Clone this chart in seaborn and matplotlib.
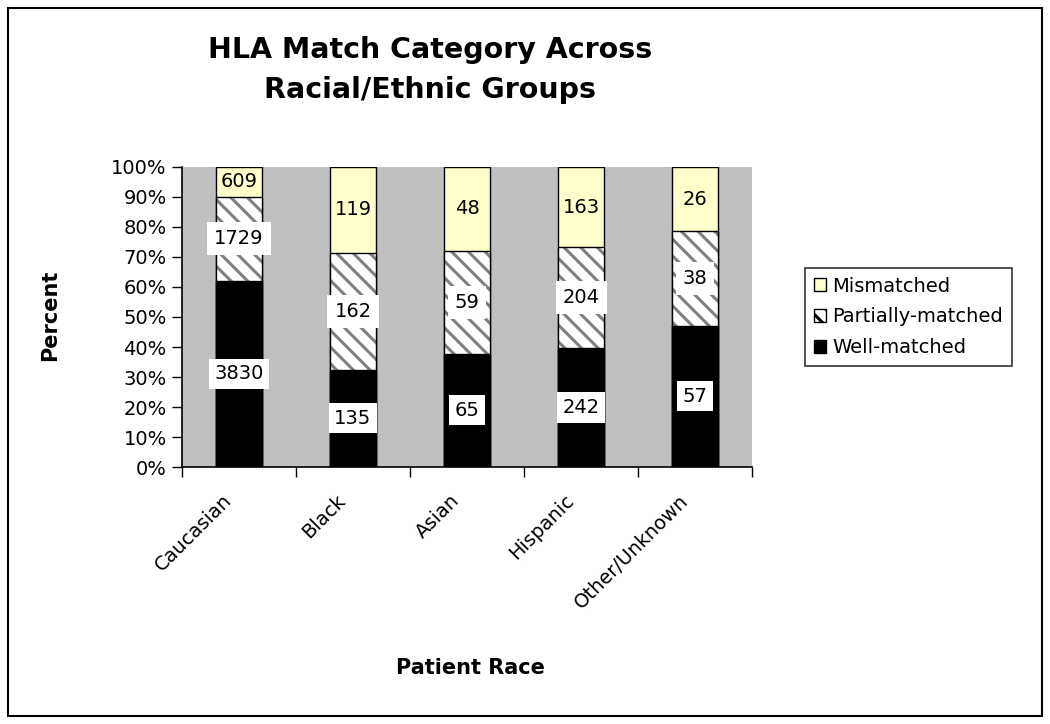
import numpy as np
import pandas as pd
import matplotlib
matplotlib.use("Agg")
import matplotlib.pyplot as plt
import seaborn as sns
from matplotlib.patches import Patch, Rectangle
from matplotlib.ticker import FixedLocator
from matplotlib.transforms import ScaledTranslation

# ---- data ----
races = ["Caucasian", "Black", "Asian", "Hispanic", "Other/Unknown"]
well_matched = [3830, 135, 65, 242, 57]
partially_matched = [1729, 162, 59, 204, 38]
mismatched = [609, 119, 48, 163, 26]
legend_labels = ["Mismatched", "Partially-matched", "Well-matched"]
y_ticks = [0, 10, 20, 30, 40, 50, 60, 70, 80, 90, 100]

df = pd.DataFrame({"race": races, "well": well_matched,
                   "partial": partially_matched, "mism": mismatched})
total = df["well"] + df["partial"] + df["mism"]
df["well_top"] = df["well"] / total * 100
df["partial_top"] = (df["well"] + df["partial"]) / total * 100
df["mism_top"] = (df["well"] + df["partial"] + df["mism"]) / total * 100

sns.set_theme(style="white")
plt.rcParams["font.family"] = ["DejaVu Sans"]
plt.rcParams["hatch.linewidth"] = 2.2
for k in ["text.color", "axes.labelcolor", "xtick.color", "ytick.color"]:
    plt.rcParams[k] = "black"

YELLOW = "#FFFFCC"
GREY_BG = "#C0C0C0"
HATCH_GREY = "#808080"

fig = plt.figure(figsize=(10.5, 7.24), dpi=100)
ax = fig.add_axes([182 / 1050, 1 - 467 / 724, 570 / 1050, 300 / 724])
ax.set_facecolor(GREY_BG)

W = 0.4
sns.barplot(data=df, x="race", y="mism_top", order=races, color=YELLOW,
            saturation=1, width=W, edgecolor="black", linewidth=1, ax=ax,
            errorbar=None)
sns.barplot(data=df, x="race", y="partial_top", order=races, color="white",
            saturation=1, width=W, edgecolor=HATCH_GREY, linewidth=0,
            hatch="\\\\", ax=ax, errorbar=None)
sns.barplot(data=df, x="race", y="partial_top", order=races, color="black",
            fill=False, width=W, linewidth=1, ax=ax, errorbar=None)
sns.barplot(data=df, x="race", y="well_top", order=races, color="black",
            saturation=1, width=W, edgecolor="black", linewidth=1, ax=ax,
            errorbar=None)

# ---- value labels ----
LBL = 14
for i, r in df.iterrows():
    ax.text(i, r["well_top"] / 2, f"{r['well']}", ha="center", va="center",
            fontsize=LBL, color="black",
            bbox=dict(facecolor="white", edgecolor="none", pad=4))
    ax.text(i, (r["well_top"] + r["partial_top"]) / 2, f"{r['partial']}",
            ha="center", va="center", fontsize=LBL, color="black",
            bbox=dict(facecolor="white", edgecolor="none", pad=5))
    ax.text(i, (r["partial_top"] + r["mism_top"]) / 2, f"{r['mism']}",
            ha="center", va="center", fontsize=LBL, color="black")

# ---- axes ----
ax.set_xlim(-0.5, len(races) - 0.5)
ax.set_ylim(0, 100)
ax.yaxis.set_major_locator(FixedLocator(y_ticks))
ax.set_yticklabels([f"{t}%" for t in y_ticks], fontsize=14)
ax.tick_params(axis="y", direction="out", length=7, width=1, color="black",
               left=True, pad=4)
ax.set_xticks(range(len(races)))
ax.set_xticklabels(races, rotation=45, ha="right", va="center",
                   rotation_mode="anchor", fontsize=14)
ax.tick_params(axis="x", which="major", length=0, pad=22)
offset = ScaledTranslation(-10 / 100, 0, fig.dpi_scale_trans)
for lab in ax.get_xticklabels():
    lab.set_transform(lab.get_transform() + offset)
ax.xaxis.set_minor_locator(FixedLocator(np.arange(-0.5, len(races), 1.0)))
ax.tick_params(axis="x", which="minor", direction="out", length=7, width=1,
               color="black", bottom=True)
for side in ["top", "right"]:
    ax.spines[side].set_visible(False)
for side in ["left", "bottom"]:
    ax.spines[side].set_color("black")
    ax.spines[side].set_linewidth(1.2)
ax.set_xlabel("")
ax.set_ylabel("")

fig.text(50 / 1050, 1 - 315 / 724, "Percent", rotation=90, ha="center",
         va="center", fontsize=15, fontweight="bold")
fig.text(470 / 1050, 1 - 668 / 724, "Patient Race", ha="center",
         va="center", fontsize=15, fontweight="bold")
fig.text(430 / 1050, 1 - 70 / 724, "HLA Match Category Across\nRacial/Ethnic Groups",
         ha="center", va="center", fontsize=20.5, fontweight="bold",
         linespacing=1.55)

# ---- legend ----
handles = [
    Patch(facecolor=YELLOW, edgecolor="black", linewidth=1),
    Patch(facecolor="white", edgecolor="black", hatch="\\\\", linewidth=1),
    Patch(facecolor="black", edgecolor="black", linewidth=1),
]
leg = fig.legend(handles, legend_labels, loc="upper left",
                 bbox_to_anchor=(805 / 1050, 1 - 268 / 724), fontsize=14,
                 frameon=True, fancybox=False, edgecolor="black",
                 handlelength=0.65, handleheight=0.65, handletextpad=0.3,
                 borderpad=0.45, labelspacing=0.6, borderaxespad=0)
leg.get_frame().set_linewidth(1.2)
for t in leg.get_texts():
    t.set_color("black")

# ---- outer border ----
fig.patches.append(Rectangle((8 / 1050, 8 / 724), 1034 / 1050, 708 / 724,
                             transform=fig.transFigure, fill=False,
                             edgecolor="black", linewidth=1.5))

fig.savefig("out.png", dpi=100, facecolor="white")
